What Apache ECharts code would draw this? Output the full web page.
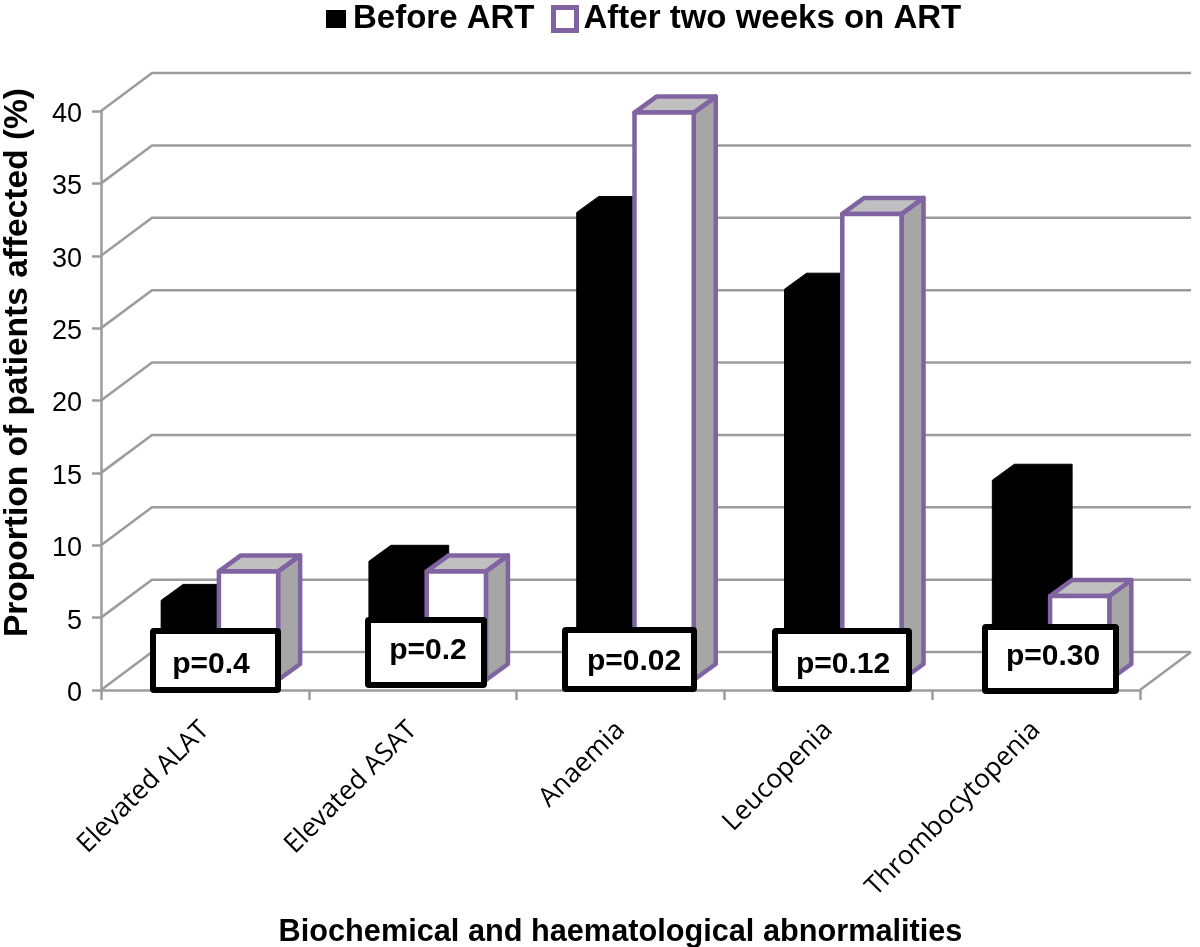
<!DOCTYPE html>
<html>
<head>
<meta charset="utf-8">
<style>html,body{margin:0;padding:0;background:#fff}#c{width:1200px;height:947px}</style>
<script src="https://cdn.jsdelivr.net/npm/echarts@6/dist/echarts.min.js"></script>
</head>
<body>
<div id="c"></div>
<script>
const categories = ['Elevated ALAT', 'Elevated ASAT', 'Anaemia', 'Leucopenia', 'Thrombocytopenia'];
const beforeART = [5.5, 8.2, 32.3, 27, 13.8];
const afterART = [7.5, 7.5, 39.2, 32.2, 5.8];
const pValues = ['p=0.4', 'p=0.2', 'p=0.02', 'p=0.12', 'p=0.30'];
const yTicks = [0, 5, 10, 15, 20, 25, 30, 35, 40];

const GRAY = '#9c9c9c', PURPLE = '#8064a2';
const WALL = [51, -38], FRONT = [14, -10], DEPTH = [22, -16];

function gridRender(params, api) {
  const cs = params.coordSys;
  const y = api.coord([0, api.value(0)])[1];
  const x0 = cs.x, x1 = cs.x + cs.width;
  return {
    type: 'polyline',
    shape: { points: [[x0, y], [x0 + WALL[0], y + WALL[1]], [x1 + WALL[0], y + WALL[1]]] },
    style: { fill: null, stroke: GRAY, lineWidth: 2.5 }
  };
}
function floorEdge(params, api) {
  const cs = params.coordSys;
  const y = api.coord([0, 0])[1];
  const x1 = cs.x + cs.width;
  return {
    type: 'line',
    shape: { x1: x1, y1: y, x2: x1 + WALL[0], y2: y + WALL[1] },
    style: { stroke: GRAY, lineWidth: 2.5 }
  };
}
function barRender(side) {
  return function (params, api) {
    const p = api.coord([api.value(0), api.value(1)]);
    const base = api.coord([api.value(0), 0]);
    const w = api.size([1, 0])[0] * (side === 0 ? 0.278 : 0.285);
    const l = side === 0 ? p[0] + FRONT[0] - w : p[0] + FRONT[0];
    const r = l + w, t = p[1] + FRONT[1], b = base[1] + FRONT[1];
    const dx = DEPTH[0], dy = DEPTH[1];
    if (side === 0) {
      return {
        type: 'polygon',
        shape: { points: [[l, b], [l, t], [l + dx, t + dy], [r + dx, t + dy], [r + dx, b + dy], [r, b]] },
        style: { fill: '#000', stroke: '#000', lineWidth: 1 }
      };
    }
    const st = { stroke: PURPLE, lineWidth: 4.5, lineJoin: 'round' };
    return {
      type: 'group',
      children: [
        { type: 'polygon', shape: { points: [[r, t], [r + dx, t + dy], [r + dx, b + dy], [r, b]] }, style: Object.assign({ fill: '#a6a6a6' }, st) },
        { type: 'polygon', shape: { points: [[l, t], [l + dx, t + dy], [r + dx, t + dy], [r, t]] }, style: Object.assign({ fill: '#c0c0c0' }, st) },
        { type: 'rect', shape: { x: l, y: t, width: w, height: b - t }, style: Object.assign({ fill: '#fff' }, st) }
      ]
    };
  };
}

const boxLayout = [
  { x: 153, y: 631, w: 125, h: 59, tx: 211, ty: 665 },
  { x: 368, y: 620, w: 116, h: 65, tx: 428, ty: 651 },
  { x: 565, y: 630, w: 129, h: 59, tx: 634, ty: 662 },
  { x: 775, y: 631, w: 134, h: 58, tx: 843, ty: 665 },
  { x: 985, y: 627, w: 131, h: 64, tx: 1053, ty: 657 }
];
const graphics = [];
pValues.forEach(function (txt, i) {
  const b = boxLayout[i];
  graphics.push({
    type: 'rect', z: 100,
    shape: { x: b.x, y: b.y, width: b.w, height: b.h, r: 1 },
    style: { fill: '#fff', stroke: '#000', lineWidth: 6 }
  });
  graphics.push({
    type: 'text', z: 101, x: b.tx, y: b.ty,
    style: { text: txt, fill: '#000', font: 'bold 30px "Liberation Sans"', textAlign: 'center', textVerticalAlign: 'middle' }
  });
});

const legendText = { fontFamily: '"Liberation Sans"', fontWeight: 'bold', fontSize: 33, color: '#000', lineHeight: 38, padding: [0, 0, 0, 2] };
const chart = echarts.init(document.getElementById('c'), null, { renderer: 'canvas' });
chart.setOption({
  animation: false,
  backgroundColor: '#fff',
  textStyle: { fontFamily: '"Liberation Sans"' },
  legend: [
    {
      left: 326, top: 0, padding: 0,
      itemWidth: 20, itemHeight: 18,
      selectedMode: false,
      textStyle: legendText,
      data: [{ name: 'Before ART', icon: 'rect', itemStyle: { color: '#000', borderWidth: 0 } }]
    },
    {
      left: 551, top: 0, padding: 0,
      itemWidth: 23, itemHeight: 23,
      selectedMode: false,
      textStyle: legendText,
      data: [{ name: 'After two weeks on ART', icon: 'rect', itemStyle: { color: '#fff', borderColor: PURPLE, borderWidth: 5 } }]
    }
  ],
  grid: { left: 101, right: 60, top: 111, bottom: 257, outerBoundsMode: 'none', containLabel: false },
  xAxis: {
    type: 'category',
    data: categories,
    name: 'Biochemical and haematological abnormalities',
    nameLocation: 'middle',
    nameGap: 227,
    nameTextStyle: { fontFamily: '"Liberation Sans"', fontWeight: 'bold', fontSize: 30.7, color: '#000' },
    axisLine: { lineStyle: { color: GRAY, width: 2.5 } },
    axisTick: { show: true, length: 10, lineStyle: { color: GRAY, width: 2.5 } },
    axisLabel: { rotate: 45, interval: 0, margin: 36, fontFamily: '"Open Sans"', fontSize: 26.5, color: '#000' },
    splitLine: { show: false }
  },
  yAxis: {
    type: 'value', min: 0, max: 40, interval: 5,
    name: 'Proportion of patients affected (%)',
    nameLocation: 'middle', nameRotate: 90, nameGap: 66,
    nameTextStyle: { fontFamily: '"Liberation Sans"', fontWeight: 'bold', fontSize: 33.5, color: '#000', padding: [0, 0, 0, 76] },
    axisLine: { show: true, lineStyle: { color: GRAY, width: 2.5 } },
    axisTick: { show: true, length: 9, lineStyle: { color: GRAY, width: 2.5 } },
    axisLabel: {
      margin: 19, color: '#000',
      formatter: '{n|{value}}',
      rich: { n: { fontFamily: '"Liberation Sans"', fontSize: 27, color: '#000', padding: [7, 0, 0, 0] } }
    },
    splitLine: { show: false }
  },
  series: [
    { type: 'custom', name: 'grid', silent: true, clip: false, z: 1, renderItem: gridRender, data: yTicks.map(v => [v]), encode: { y: 0 } },
    { type: 'custom', name: 'floor', silent: true, clip: false, z: 1, renderItem: floorEdge, data: [[0]] },
    { type: 'custom', name: 'Before ART', clip: false, z: 3, renderItem: barRender(0), data: beforeART.map((v, i) => [i, v]), encode: { x: 0, y: 1 }, itemStyle: { color: '#000' } },
    { type: 'custom', name: 'After two weeks on ART', clip: false, z: 4, renderItem: barRender(1), data: afterART.map((v, i) => [i, v]), encode: { x: 0, y: 1 }, itemStyle: { color: '#fff', borderColor: PURPLE } }
  ],
  graphic: graphics
});
</script>
</body>
</html>
